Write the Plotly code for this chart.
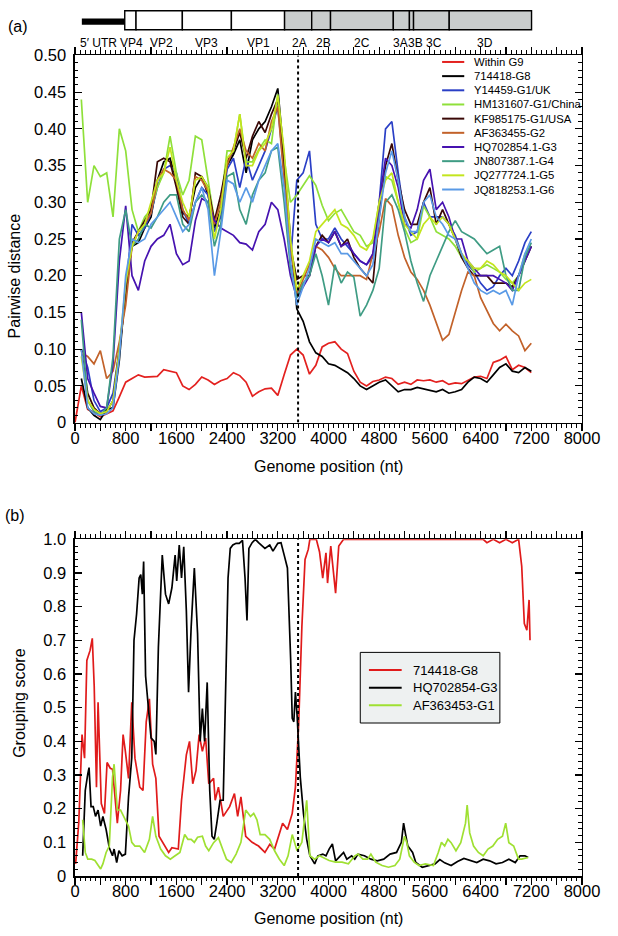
import plotly.graph_objects as go

# ---------------- data ----------------
BREAKPOINT = 3520

# genome map (nt)
UTR_START, UTR_END = 108, 785
MAP_BOUNDS = [785, 963, 1694, 2468, 3307, 3735, 4032, 5023, 5277, 5342, 5905, 7204]
MAP_STRUCTURAL = [True, True, True, True, False, False, False, False, False, False, False]
MAP_LABELS = ["5\u2032 UTR", "VP4", "VP2", "VP3", "VP1", "2A", "2B", "2C", "3A", "3B", "3C", "3D"]
MAP_LABEL_POS = [365, 893, 1359, 2078, 2890, 3545, 3924, 4525, 5131, 5374, 5672, 6468]

# panel (a): pairwise distance on a 100-nt grid
X_A = list(range(100, 7201, 100))
X_RED = [0] + X_A

WITHIN_G9 = [0.0, 0.05, 0.018, 0.014, 0.008, 0.012, 0.016, 0.035, 0.055, 0.06, 0.065,
             0.062, 0.063, 0.063, 0.072, 0.07, 0.068, 0.05, 0.045, 0.052, 0.062,
             0.058, 0.052, 0.057, 0.06, 0.068, 0.064, 0.055, 0.036, 0.042, 0.046,
             0.047, 0.037, 0.065, 0.092, 0.1, 0.092, 0.066, 0.078, 0.103, 0.108,
             0.11, 0.1, 0.094, 0.07, 0.055, 0.05, 0.056, 0.058, 0.062, 0.06,
             0.052, 0.055, 0.052, 0.058, 0.057, 0.058, 0.055, 0.057, 0.052, 0.054,
             0.053, 0.058, 0.062, 0.063, 0.06, 0.082, 0.085, 0.09, 0.072, 0.078,
             0.075, 0.068]
G8_714418 = [0.06, 0.02, 0.01, 0.004, 0.018, 0.02, 0.085, 0.185, 0.24, 0.245,
             0.265, 0.28, 0.33, 0.355, 0.36, 0.33, 0.285, 0.28, 0.32, 0.335,
             0.31, 0.265, 0.29, 0.35, 0.365, 0.385, 0.34, 0.385, 0.4, 0.41,
             0.43, 0.455, 0.36, 0.25, 0.155, 0.138, 0.11, 0.095, 0.09, 0.08,
             0.078, 0.073, 0.068, 0.06, 0.05, 0.045, 0.05, 0.055, 0.058, 0.05,
             0.042, 0.045, 0.045, 0.048, 0.046, 0.045, 0.042, 0.045, 0.04, 0.042,
             0.045, 0.055, 0.062, 0.06, 0.055, 0.065, 0.075, 0.08, 0.07, 0.068,
             0.075, 0.07]
Y14459_UK = [0.1, 0.075, 0.03, 0.015, 0.02, 0.04, 0.1, 0.18, 0.27, 0.255,
             0.265, 0.285, 0.32, 0.345, 0.35, 0.34, 0.29, 0.27, 0.3, 0.32,
             0.31, 0.26, 0.28, 0.345, 0.36, 0.32, 0.36, 0.33, 0.35, 0.37,
             0.4, 0.43, 0.34, 0.22, 0.33, 0.34, 0.37, 0.27, 0.25, 0.25,
             0.265, 0.25, 0.24, 0.23, 0.22, 0.215, 0.225, 0.3, 0.4, 0.41,
             0.34, 0.28, 0.255, 0.26, 0.3, 0.28, 0.28, 0.28, 0.27, 0.255,
             0.23, 0.215, 0.205, 0.19, 0.18, 0.185, 0.2, 0.21, 0.2, 0.22,
             0.245, 0.26]
HM131607_CHINA = [0.44, 0.3, 0.35, 0.335, 0.34, 0.28, 0.4, 0.37, 0.29, 0.26,
                  0.28, 0.29, 0.32, 0.34, 0.39, 0.34, 0.31, 0.33, 0.39, 0.385,
                  0.33, 0.275, 0.3, 0.37, 0.37, 0.42, 0.355, 0.355, 0.372, 0.385,
                  0.38, 0.447, 0.36, 0.3, 0.31, 0.323, 0.336, 0.323, 0.296, 0.275,
                  0.285, 0.29, 0.275, 0.26, 0.255, 0.24, 0.245, 0.3, 0.335, 0.33,
                  0.3, 0.265, 0.245, 0.25, 0.295, 0.28, 0.26, 0.255, 0.25, 0.24,
                  0.225, 0.22, 0.205, 0.21, 0.215, 0.21, 0.205, 0.195, 0.19, 0.2,
                  0.23, 0.24]
KF985175_USA = [0.1, 0.04, 0.02, 0.012, 0.015, 0.03, 0.1, 0.17, 0.245, 0.26,
                0.275, 0.29, 0.355, 0.36, 0.355, 0.32, 0.28, 0.27, 0.34, 0.335,
                0.32, 0.275, 0.31, 0.355, 0.37, 0.395, 0.36, 0.39, 0.41, 0.395,
                0.42, 0.44, 0.35, 0.24, 0.195, 0.2, 0.2, 0.24, 0.255, 0.245,
                0.26, 0.24, 0.25, 0.225, 0.21, 0.2, 0.19, 0.28, 0.35, 0.38,
                0.33, 0.29, 0.27, 0.27, 0.3, 0.32, 0.27, 0.29, 0.27, 0.25,
                0.225, 0.21, 0.2, 0.2, 0.2, 0.19, 0.19, 0.19, 0.185, 0.2,
                0.22, 0.24]
AF363455_G2 = [0.095, 0.09, 0.08, 0.098, 0.06, 0.07, 0.11, 0.16, 0.24, 0.26,
               0.27, 0.285, 0.33, 0.345, 0.34, 0.33, 0.29, 0.275, 0.335, 0.33,
               0.315, 0.27, 0.3, 0.35, 0.375, 0.4, 0.37, 0.36, 0.38, 0.37,
               0.41, 0.43, 0.33, 0.24, 0.175, 0.195, 0.215, 0.24, 0.235, 0.225,
               0.21, 0.2, 0.2, 0.2, 0.2, 0.195, 0.23, 0.26, 0.305, 0.295,
               0.255, 0.225, 0.205, 0.195, 0.18, 0.16, 0.135, 0.112, 0.12, 0.15,
               0.18, 0.205, 0.2, 0.17, 0.152, 0.135, 0.125, 0.134, 0.125, 0.118,
               0.098, 0.108]
HQ702854_G3 = [0.15, 0.06, 0.04, 0.022, 0.02, 0.08, 0.22, 0.295, 0.2, 0.18,
               0.22, 0.24, 0.25, 0.255, 0.27, 0.23, 0.215, 0.22, 0.275, 0.305,
               0.3, 0.275, 0.265, 0.26, 0.255, 0.245, 0.243, 0.235, 0.26, 0.27,
               0.3, 0.29, 0.25, 0.2, 0.17, 0.185, 0.2, 0.24, 0.25, 0.245,
               0.26, 0.24, 0.245, 0.23, 0.22, 0.215, 0.23, 0.3, 0.36, 0.35,
               0.32, 0.27, 0.265, 0.29, 0.33, 0.345, 0.29, 0.3, 0.28, 0.25,
               0.25, 0.22, 0.21, 0.2, 0.2, 0.2, 0.195, 0.19, 0.18, 0.2,
               0.22, 0.24]
JN807387_G4 = [0.14, 0.03, 0.015, 0.01, 0.02, 0.09, 0.25, 0.29, 0.24, 0.25,
               0.27, 0.265, 0.28, 0.3, 0.31, 0.31, 0.27, 0.26, 0.3, 0.31,
               0.3, 0.24, 0.27, 0.335, 0.34, 0.29, 0.27, 0.31, 0.33, 0.34,
               0.37, 0.375, 0.3, 0.21, 0.17, 0.19, 0.2, 0.23, 0.2, 0.16,
               0.215, 0.19, 0.205, 0.198, 0.145, 0.16, 0.18, 0.21, 0.3, 0.31,
               0.29, 0.26, 0.22, 0.19, 0.165, 0.2, 0.22, 0.24, 0.26, 0.275,
               0.26, 0.255, 0.25, 0.24, 0.23, 0.235, 0.24, 0.2, 0.18, 0.18,
               0.225, 0.245]
JQ277724_G5 = [0.09, 0.03, 0.018, 0.012, 0.015, 0.03, 0.1, 0.19, 0.24, 0.26,
               0.27, 0.3, 0.33, 0.34, 0.375, 0.33, 0.3, 0.28, 0.33, 0.335,
               0.32, 0.25, 0.29, 0.36, 0.37, 0.42, 0.35, 0.35, 0.37, 0.38,
               0.4, 0.445, 0.37, 0.25, 0.18, 0.2, 0.22, 0.26, 0.27, 0.28,
               0.29, 0.27, 0.265, 0.255, 0.24, 0.235, 0.25, 0.3, 0.33, 0.34,
               0.3, 0.27, 0.26, 0.25, 0.27, 0.28, 0.27, 0.28, 0.27, 0.25,
               0.23, 0.22, 0.21, 0.21, 0.22, 0.215, 0.205, 0.2, 0.19, 0.18,
               0.19, 0.195]
JQ818253_G6 = [0.1, 0.02, 0.012, 0.01, 0.012, 0.02, 0.09, 0.2, 0.25, 0.245,
               0.25, 0.27, 0.28, 0.29, 0.3, 0.28, 0.26, 0.27, 0.3, 0.32,
               0.29, 0.2, 0.26, 0.33, 0.325, 0.3, 0.32, 0.3, 0.33, 0.35,
               0.37, 0.38, 0.32, 0.22, 0.16, 0.185, 0.21, 0.25, 0.245, 0.24,
               0.245, 0.23, 0.23, 0.22, 0.21, 0.2, 0.215, 0.28, 0.34, 0.37,
               0.33, 0.28, 0.26, 0.26, 0.3, 0.31, 0.28, 0.27, 0.255, 0.25,
               0.23, 0.21, 0.19, 0.18, 0.175, 0.18, 0.175, 0.18, 0.16, 0.2,
               0.23, 0.25]

A_NAMES = ["Within G9", "714418-G8", "Y14459-G1/UK", "HM131607-G1/China", "KF985175-G1/USA",
           "AF363455-G2", "HQ702854.1-G3", "JN807387.1-G4", "JQ277724.1-G5", "JQ818253.1-G6"]
A_COLORS = ["#e3211f", "#000000", "#2a3fc6", "#8fe03a", "#3a0806",
            "#c2622a", "#4612b0", "#3f9c84", "#c3e51e", "#5a9ae6"]
A_VALUES = [WITHIN_G9, G8_714418, Y14459_UK, HM131607_CHINA, KF985175_USA,
            AF363455_G2, HQ702854_G3, JN807387_G4, JQ277724_G5, JQ818253_G6]

# panel (b): grouping score
B_G8_X = [10, 60, 111, 151, 187, 238, 273, 303, 339, 364, 415, 465, 506, 557, 592, 668, 719, 759, 795, 845,
          896, 946, 1022, 1073, 1124, 1174, 1225, 1276, 1326, 1428, 1478, 1529, 1630, 1681, 1757, 1807, 1858,
          1909, 1959, 2010, 2061, 2111, 2187, 2212, 2263, 2339, 2440, 2516, 2567, 2618, 2694, 2795, 2896, 2997,
          3073, 3149, 3276, 3352, 3428, 3478, 3529, 3580, 3630, 3681, 3706, 3808, 3858, 3909, 3960, 3985, 4036,
          4112, 4162, 4238, 6440, 6500, 6600, 6700, 6800, 6900, 7000, 7049, 7090, 7130, 7165, 7180]
B_G8_Y = [0.036, 0.16, 0.42, 0.35, 0.64, 0.67, 0.706, 0.565, 0.264, 0.516, 0.215, 0.186, 0.337, 0.32, 0.317,
          0.157, 0.254, 0.42, 0.37, 0.29, 0.516, 0.35, 0.264, 0.254, 0.458, 0.526, 0.332, 0.29, 0.118, 0.084,
          0.07, 0.084, 0.08, 0.225, 0.36, 0.4, 0.274, 0.313, 0.42, 0.37, 0.41, 0.274, 0.29, 0.225, 0.264, 0.177,
          0.206, 0.245, 0.177, 0.235, 0.118, 0.1, 0.089, 0.07, 0.094, 0.08, 0.157, 0.138, 0.186, 0.264, 0.449,
          0.74, 0.94, 0.97, 1.0, 1.0, 0.963, 0.885, 0.96, 0.87, 0.98, 0.84, 0.98, 1.0, 1.0, 0.99, 1.0, 0.99, 1.0,
          0.99, 1.0, 0.92, 0.75, 0.73, 0.82, 0.7]

B_G3_X = [121, 162, 202, 222, 253, 288, 324, 364, 405, 440, 491, 541, 592, 617, 658, 693, 744, 795, 845, 896,
          931, 972, 1012, 1038, 1063, 1083, 1114, 1149, 1200, 1250, 1276, 1316, 1377, 1428, 1478, 1529, 1580,
          1605, 1645, 1681, 1716, 1757, 1792, 1833, 1883, 1934, 1975, 2010, 2045, 2086, 2126, 2162, 2197, 2238,
          2289, 2339, 2380, 2415, 2450, 2491, 2542, 2592, 2643, 2683, 2714, 2744, 2795, 2846, 2896, 2997, 3073,
          3124, 3200, 3251, 3301, 3352, 3403, 3428, 3453, 3478, 3504, 3555, 3605, 3656, 3706, 3782, 3833, 3909,
          3960, 4010, 4061, 4112, 4187, 4238, 4289, 4365, 4415, 4466, 4567, 4669, 4770, 4871, 4972, 5074, 5150,
          5185, 5215, 5250, 5327, 5378, 5479, 5580, 5681, 5757, 5833, 5935, 6036, 6137, 6238, 6340, 6441, 6542,
          6644, 6745, 6846, 6947, 7023, 7100, 7150]
B_G3_Y = [0.06, 0.254, 0.303, 0.322, 0.206, 0.206, 0.177, 0.196, 0.148, 0.177,
          0.138, 0.084, 0.06, 0.08, 0.04, 0.075, 0.06, 0.065, 0.235, 0.351,
          0.7, 0.778, 0.885, 0.895, 0.837, 0.934, 0.594, 0.526, 0.41, 0.4,
          0.361, 0.68, 0.953, 0.837, 0.808, 0.856, 0.953, 0.876, 0.983, 0.885,
          0.978, 0.788, 0.546, 0.74, 0.915, 0.72, 0.4, 0.497, 0.4, 0.575,
          0.254, 0.118, 0.109, 0.157, 0.225, 0.225, 0.546, 0.885, 0.973, 0.983,
          0.988, 0.988, 0.997, 0.885, 0.759, 0.973, 0.99, 1.0, 0.99, 0.973,
          0.983, 0.965, 0.988, 0.99, 0.953, 0.915, 0.643, 0.468, 0.458, 0.546,
          0.478, 0.293, 0.186, 0.109, 0.06, 0.036, 0.06, 0.065, 0.06, 0.08,
          0.095, 0.045, 0.06, 0.07, 0.05, 0.06, 0.05, 0.065, 0.06, 0.05,
          0.045, 0.05, 0.065, 0.07, 0.1, 0.157, 0.125, 0.09, 0.07, 0.04,
          0.026, 0.03, 0.036, 0.049, 0.039, 0.031, 0.043, 0.052, 0.045, 0.04,
          0.05, 0.045, 0.036, 0.04, 0.05, 0.04, 0.06, 0.06, 0.055]

B_G1_X = [121, 162, 202, 263, 314, 364, 405, 440, 491, 541, 592, 617, 668, 719, 769, 845, 896, 946, 1022, 1098,
          1174, 1225, 1276, 1352, 1428, 1504, 1580, 1655, 1731, 1782, 1833, 1883, 1934, 2010, 2061, 2111, 2187,
          2263, 2339, 2390, 2466, 2542, 2618, 2694, 2770, 2820, 2871, 2922, 2997, 3073, 3149, 3225, 3301, 3362,
          3428, 3504, 3580, 3656, 3706, 3782, 3858, 3960, 4010, 4112, 4213, 4314, 4415, 4466, 4542, 4618, 4669,
          4745, 4846, 4947, 5048, 5124, 5200, 5236, 5276, 5352, 5428, 5529, 5656, 5732, 5783, 5833, 5884, 5935,
          6011, 6087, 6162, 6188, 6228, 6289, 6365, 6441, 6517, 6593, 6669, 6745, 6796, 6846, 6922, 6998, 7049, 7150]
B_G1_Y = [0.167, 0.07, 0.05, 0.05, 0.046, 0.031, 0.021, 0.036, 0.07, 0.089,
          0.293, 0.332, 0.196, 0.196, 0.177, 0.148, 0.1, 0.089, 0.089, 0.07,
          0.109, 0.177, 0.118, 0.08, 0.06, 0.05, 0.06, 0.07, 0.123, 0.109,
          0.109, 0.1, 0.115, 0.118, 0.089, 0.075, 0.099, 0.114, 0.075, 0.05,
          0.04, 0.065, 0.1, 0.196, 0.177, 0.186, 0.167, 0.123, 0.123, 0.109,
          0.075, 0.05, 0.031, 0.06, 0.123, 0.075, 0.1, 0.225, 0.06, 0.05,
          0.06, 0.05, 0.046, 0.041, 0.041, 0.036, 0.06, 0.065, 0.05, 0.05,
          0.065, 0.041, 0.031, 0.026, 0.031, 0.05, 0.118, 0.099, 0.06, 0.041,
          0.031, 0.036, 0.031, 0.07, 0.1, 0.089, 0.109, 0.099, 0.075, 0.099,
          0.157, 0.211, 0.128, 0.089, 0.07, 0.06, 0.08, 0.089, 0.109, 0.118,
          0.157, 0.099, 0.089, 0.05, 0.05, 0.055]

B_NAMES = ["714418-G8", "HQ702854-G3", "AF363453-G1"]
B_COLORS = ["#e01b1b", "#000000", "#9fe032"]
B_SERIES = [(B_G8_X, B_G8_Y), (B_G3_X, B_G3_Y), (B_G1_X, B_G1_Y)]

XTICK_VALS = list(range(0, 8001, 400))
XTICK_TEXT = [str(v) if v % 800 == 0 else "" for v in XTICK_VALS]
YA_VALS = [i * 0.05 for i in range(11)]
YA_TEXT = ["0"] + ["%.2f" % v for v in YA_VALS[1:]]
YB_VALS = [i * 0.1 for i in range(11)]
YB_TEXT = ["0"] + ["%.1f" % v for v in YB_VALS[1:]]

# ---------------- layout helpers ----------------
W, H = 618, 936
FONT = "Liberation Sans, Arial, Helvetica, sans-serif"
X_LEFT, X_RIGHT = 72.7, 599.3
A_TOP, A_BOT = 47.3, 421.7
B_TOP, B_BOT = 540.7, 884.0


def px(x):
    return x / W


def py(y):
    return 1 - y / H


fig = go.Figure()

for name, color, vals in zip(A_NAMES, A_COLORS, A_VALUES):
    xs = X_RED if len(vals) == len(X_RED) else X_A
    fig.add_trace(go.Scatter(x=xs, y=vals, mode="lines", name=name,
                             line=dict(color=color, width=1.7), xaxis="x", yaxis="y",
                             showlegend=False))

for name, color, (xs, ys) in zip(B_NAMES, B_COLORS, B_SERIES):
    fig.add_trace(go.Scatter(x=xs, y=ys, mode="lines", name=name,
                             line=dict(color=color, width=1.7), xaxis="x2", yaxis="y2",
                             showlegend=False))

tickfont = dict(family=FONT, size=16.5, color="black")
xcommon = dict(range=[0, 8000], tickmode="array", tickvals=XTICK_VALS, ticktext=XTICK_TEXT,
               ticks="outside", ticklen=7, tickwidth=1.2, tickcolor="black",
               showline=True, linecolor="black", linewidth=1.5, mirror="ticks",
               showgrid=False, zeroline=False, tickfont=tickfont, ticklabelstandoff=-7,
               minor=dict(tickmode="linear", tick0=0, dtick=80, ticks="outside", ticklen=3.5,
                          tickwidth=1, tickcolor="black", showgrid=False),
               domain=[px(X_LEFT), px(X_RIGHT)], fixedrange=True)
ycommon = dict(ticks="inside", ticklen=7, tickwidth=1.2, tickcolor="black",
               showline=True, linecolor="black", linewidth=1.5, mirror="ticks",
               showgrid=False, zeroline=False, tickfont=tickfont, tickmode="array",
               ticklabelstandoff=4, fixedrange=True)

fig.update_layout(
    width=W, height=H, margin=dict(l=0, r=0, t=0, b=0),
    paper_bgcolor="white", plot_bgcolor="white", showlegend=False,
    font=dict(family=FONT, color="black"),
    xaxis=dict(xcommon, anchor="y"),
    yaxis=dict(ycommon, range=[0, 0.5], tickvals=YA_VALS, ticktext=YA_TEXT,
               domain=[py(A_BOT), py(A_TOP)], anchor="x",
               minor=dict(tickmode="linear", tick0=0, dtick=0.01, ticks="inside", ticklen=3.5,
                          tickwidth=1, tickcolor="black", showgrid=False)),
    xaxis2=dict(xcommon, anchor="y2"),
    yaxis2=dict(ycommon, range=[0, 1.0], tickvals=YB_VALS, ticktext=YB_TEXT,
                domain=[py(B_BOT), py(B_TOP)], anchor="x2",
                minor=dict(tickmode="linear", tick0=0, dtick=0.02, ticks="inside", ticklen=3.5,
                           tickwidth=1, tickcolor="black", showgrid=False)),
)

shapes = []
annotations = []

# breakpoint dashed lines
for xr, yr, top in (("x", "y", 0.5), ("x2", "y2", 1.0)):
    shapes.append(dict(type="line", xref=xr, yref=yr, x0=BREAKPOINT, x1=BREAKPOINT, y0=0, y1=top,
                       line=dict(color="black", width=2, dash="3px,3px")))

# genome map
shapes.append(dict(type="rect", xref="x", yref="paper", x0=UTR_START, x1=UTR_END,
                   y0=py(16.0), y1=py(9.6), fillcolor="black", line=dict(width=0)))
for i in range(len(MAP_BOUNDS) - 1):
    shapes.append(dict(type="rect", xref="x", yref="paper", x0=MAP_BOUNDS[i], x1=MAP_BOUNDS[i + 1],
                       y0=py(21.2), y1=py(1.8),
                       fillcolor="white" if MAP_STRUCTURAL[i] else "#c9cdcd",
                       line=dict(color="black", width=1.4)))
for lab, pos in zip(MAP_LABELS, MAP_LABEL_POS):
    annotations.append(dict(text=lab, x=pos, y=py(34.6), xref="x", yref="paper",
                            showarrow=False, xanchor="center", yanchor="middle",
                            font=dict(family=FONT, size=12, color="black")))

# legend (a)
for i, (name, color) in enumerate(zip(A_NAMES, A_COLORS)):
    yy = 54 + 14.45 * i
    shapes.append(dict(type="line", xref="paper", yref="paper", x0=px(454), x1=px(477),
                       y0=py(yy), y1=py(yy), line=dict(color=color, width=2)))
    annotations.append(dict(text=name, x=px(485), y=py(yy), xref="paper", yref="paper",
                            showarrow=False, xanchor="left", yanchor="middle",
                            font=dict(family=FONT, size=11.3, color="black")))

# legend (b)
shapes.append(dict(type="rect", xref="paper", yref="paper", x0=px(369), x1=px(514),
                   y0=py(728), y1=py(656), fillcolor="#eef1f1", line=dict(color="black", width=1)))
for i, (name, color) in enumerate(zip(B_NAMES, B_COLORS)):
    yy = 674 + 18 * i
    shapes.append(dict(type="line", xref="paper", yref="paper", x0=px(378), x1=px(412),
                       y0=py(yy), y1=py(yy), line=dict(color=color, width=2)))
    annotations.append(dict(text=name, x=px(421.7), y=py(yy), xref="paper", yref="paper",
                            showarrow=False, xanchor="left", yanchor="middle",
                            font=dict(family=FONT, size=13, color="black")))

# titles & panel labels
tfont = dict(family=FONT, size=16, color="black")
annotations += [
    dict(text="Pairwise distance", x=px(10), y=py(272), xref="paper", yref="paper", textangle=-90,
         showarrow=False, xanchor="center", yanchor="middle", font=tfont),
    dict(text="Grouping score", x=px(15), y=py(708), xref="paper", yref="paper", textangle=-90,
         showarrow=False, xanchor="center", yanchor="middle", font=tfont),
    dict(text="Genome position (nt)", x=px(336), y=py(466), xref="paper", yref="paper",
         showarrow=False, xanchor="center", yanchor="middle", font=tfont),
    dict(text="Genome position (nt)", x=px(336), y=py(927), xref="paper", yref="paper",
         showarrow=False, xanchor="center", yanchor="middle", font=tfont),
    dict(text="(a)", x=px(14), y=py(18), xref="paper", yref="paper",
         showarrow=False, xanchor="center", yanchor="middle", font=tfont),
    dict(text="(b)", x=px(10), y=py(516), xref="paper", yref="paper",
         showarrow=False, xanchor="center", yanchor="middle", font=tfont),
]

fig.update_layout(shapes=shapes, annotations=annotations)
fig.write_html("out.html", config={"displayModeBar": False, "staticPlot": True},
               post_script="document.body.style.margin='0px';document.body.style.padding='0px';"
                           "document.documentElement.style.overflow='hidden';")
